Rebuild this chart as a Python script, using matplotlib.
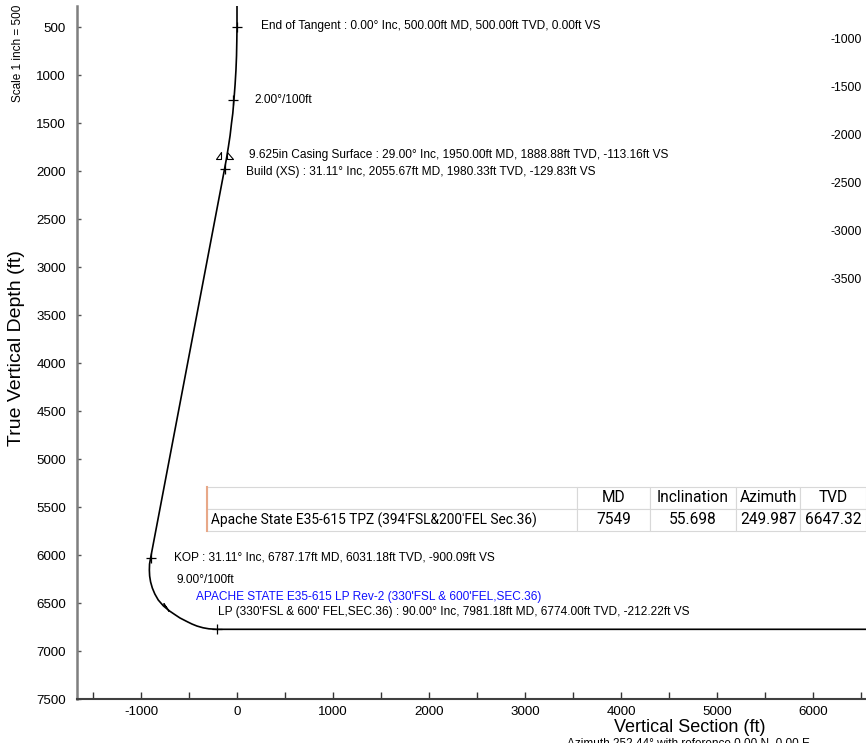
import numpy as np
import matplotlib
matplotlib.use('Agg')
import matplotlib.pyplot as plt
from matplotlib.path import Path

plt.rcParams['font.family'] = ['Liberation Sans', 'DejaVu Sans']
plt.rcParams['axes.unicode_minus'] = False

# well path (vertical section ft, TVD ft)
path_vs = [0, 0, -2, -5, -11, -20, -32, -44, -57, -72, -90, -108, -130,
           -900, -911, -913, -910, -900, -882, -856, -820, -766, -703, -641, -594,
           -557, -516, -469, -417, -354, -292, -212, 7000]
path_tvd = [0, 500, 650, 800, 950, 1100, 1260, 1400, 1500, 1630, 1750, 1860, 1980,
            6031, 6094, 6156, 6219, 6281, 6344, 6406, 6469, 6531, 6583, 6625, 6656,
            6675, 6696, 6719, 6740, 6758, 6769, 6774, 6774]

# tick marks on the path
tick_vs = [0, -40, -130, -900, -212]
tick_tvd = [500, 1260, 1980, 6031, 6774]
rate_vs = [-743]
rate_tvd = [6539]

# casing point
casing_vs = -113.16
casing_tvd = 1888.88

# labels of the plan view axis cut off at the right
right_vals = [-1000, -1500, -2000, -2500, -3000, -3500]
right_tvd = [635, 1135, 1635, 2135, 2635, 3135]

# target table
tbl_cols = ['', 'MD', 'Inclination', 'Azimuth', 'TVD']
tbl_row = ["Apache State E35-615 TPZ (394'FSL&200'FEL Sec.36)", '7549', '55.698', '249.987', '6647.32']

fig = plt.figure(figsize=(8.66, 7.43), dpi=100)
ax = fig.add_axes([77/866, 1-699/743, 789/866, 693/743])

ax.plot(path_vs, path_tvd, color='black', lw=1.2)
ax.plot(tick_vs, tick_tvd, ls='none', marker='+', ms=7, mew=0.9, color='black')
ax.plot(rate_vs, rate_tvd, ls='none', marker=(2, 2, 35), ms=7, mew=0.9, color='black')

# casing shoe symbol, two small open triangles either side of the path
verts = [(-10, 1), (-5, 1), (-5, 8), (-10, 1), (1, 1), (7, 1), (1, 8), (1, 1)]
codes = [Path.MOVETO, Path.LINETO, Path.LINETO, Path.CLOSEPOLY,
         Path.MOVETO, Path.LINETO, Path.LINETO, Path.CLOSEPOLY]
ax.plot([casing_vs], [casing_tvd], ls='none', marker=Path(verts, codes), ms=14.4,
        mew=0.8, mfc='none', mec='black')

fs = 8.55
ax.text(250, 490, 'End of Tangent : 0.00° Inc, 500.00ft MD, 500.00ft TVD, 0.00ft VS', fontsize=fs, va='center')
ax.text(180, 1260, '2.00°/100ft', fontsize=fs, va='center')
ax.text(128, 1833, '9.625in Casing Surface : 29.00° Inc, 1950.00ft MD, 1888.88ft TVD, -113.16ft VS', fontsize=fs, va='center')
ax.text(91, 2014, 'Build (XS) : 31.11° Inc, 2055.67ft MD, 1980.33ft TVD, -129.83ft VS', fontsize=fs, va='center')
ax.text(-653, 6031, 'KOP : 31.11° Inc, 6787.17ft MD, 6031.18ft TVD, -900.09ft VS', fontsize=fs, va='center')
ax.text(-628, 6260, '9.00°/100ft', fontsize=fs, va='center')
ax.text(-427, 6437, "APACHE STATE E35-615 LP Rev-2 (330'FSL & 600'FEL,SEC.36)", fontsize=fs, va='center', color='#1010ff')
ax.text(-195, 6591, "LP (330'FSL & 600' FEL,SEC.36) : 90.00° Inc, 7981.18ft MD, 6774.00ft TVD, -212.22ft VS", fontsize=fs, va='center')

for v, t in zip(right_vals, right_tvd):
    ax.text(6552 - 40, t, str(v), fontsize=8.8, ha='right', va='center')

ax.set_xlim(-1666.7, 6552)
ax.set_ylim(7500, 281)
ax.set_xticks(np.arange(-1000, 6001, 1000))
ax.set_xticks(np.arange(-1500, 6501, 500), minor=True)
ax.set_yticks(np.arange(500, 7501, 500))
ax.tick_params(axis='x', which='both', direction='in', length=5, width=1, color='#333333', labelsize=9.6, pad=5)
ax.tick_params(axis='y', direction='in', length=3, width=1, color='#555555', labelsize=9.6, pad=8)
for s in ['top', 'right']:
    ax.spines[s].set_visible(False)
ax.spines['left'].set_color('#7f7f7f')
ax.spines['left'].set_linewidth(1.8)
ax.spines['bottom'].set_color('#404040')
ax.spines['bottom'].set_linewidth(1.5)

fig.text(17/866, 1-348/743, 'True Vertical Depth (ft)', rotation=90, fontsize=14, ha='center', va='center')
fig.text(18/866, 1-5/743, 'Scale 1 inch = 500', rotation=90, fontsize=8.5, ha='center', va='top')
fig.text(690/866, 1-728/743, 'Vertical Section (ft)', fontsize=13, ha='center', va='center')
# the reference shows this line cut by the bottom edge
fig.text(688/866, 1-737/743, 'Azimuth 252.44° with reference 0.00 N, 0.00 E', fontsize=8.5, ha='center', va='top')

# table of the target
widths = np.array([370, 73, 86, 64, 66]) / 659
tb = ax.table(cellText=[tbl_row], colLabels=tbl_cols, colWidths=list(widths),
              bbox=[(207-77)/789, (699-531)/693, 659/789, 44/693], cellLoc='center')
tb.auto_set_font_size(False)
for (r, c), cell in tb.get_celld().items():
    cell.set_edgecolor('#d8d8d8')
    cell.set_linewidth(0.8)
    txt = cell.get_text()
    txt.set_fontfamily('Roboto')
    txt.set_fontsize(11.2)
    if r == 1 and c == 0:
        txt.set_ha('left')
        txt.set_fontsize(9.9)
        cell.PAD = 0.012
ax.plot([(207-77)/789]*2, [(699-531)/693, (699-487)/693], transform=ax.transAxes, color='#e8a888', lw=1.5, clip_on=False)

fig.savefig('out.png', dpi=100)
